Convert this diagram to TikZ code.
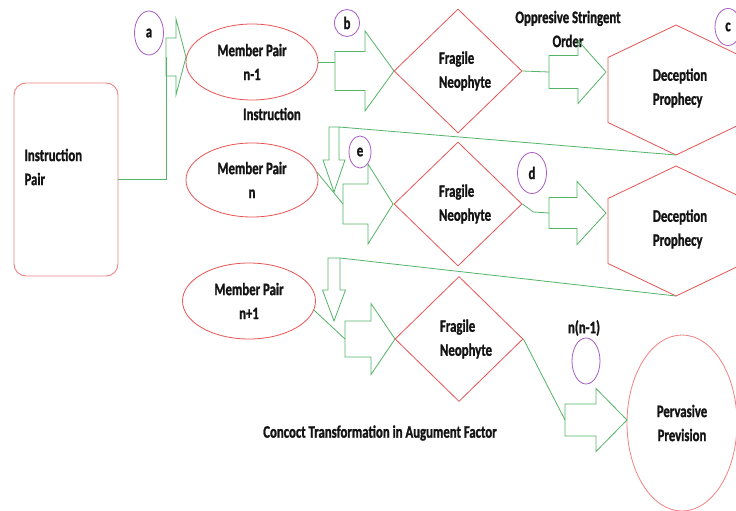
\documentclass[tikz,border=0pt]{standalone}
\usepackage{fontspec}
\setmainfont{Carlito}[FakeStretch=0.73, FakeBold=1.2]
\usetikzlibrary{shapes.geometric}
\definecolor{pairred}{RGB}{232,84,84}
\definecolor{boxpink}{RGB}{240,130,130}
\definecolor{flowgreen}{RGB}{84,180,104}
\definecolor{markpurple}{RGB}{168,92,196}
\definecolor{inktext}{RGB}{20,20,20}

\begin{document}
\begin{tikzpicture}[x=1pt, y=-1pt,
  every node/.style={font=\fontsize{17.5}{24}\selectfont\bfseries, text=inktext},
  pairbox/.style={draw=boxpink, rounded corners=12pt, minimum width=104pt,
                  minimum height=193pt, line width=0.9pt},
  member/.style={ellipse, draw=pairred, align=center, inner sep=0pt, line width=0.8pt},
  neophyte/.style={diamond, draw=pairred, align=left, text width=38pt, inner sep=0pt,
                   minimum width=128pt, minimum height=124pt, line width=0.8pt},
  tagring/.style={ellipse, draw=markpurple, inner sep=0pt, line width=0.8pt},
  flow/.style={draw=flowgreen, line width=0.8pt},
  hexline/.style={draw=pairred, line width=0.8pt},
  % block arrow: shaft length / shaft half width / head length / head half width
  pics/blockarr/.style args={#1/#2/#3/#4}{code={
    \draw[flow] (0,-#2) -- (#1,-#2) -- (#1,-#4) -- (#1+#3,0) -- (#1,#4)
                -- (#1,#2) -- (0,#2) -- cycle;
    \coordinate (-tail) at (0,0);
    \coordinate (-corner) at (0,-#2);
  }},
  pics/hexcell/.style={code={
    \draw[hexline] (0,-65) -- (68,-32.5) -- (68,32.5) -- (0,65) -- (-68,32.5)
                   -- (-68,-32.5) -- cycle;
    \node[align=left] (-txt) at (4,-2) {Deception\\Prophecy};
    \coordinate (-bot) at (0,65);
  }}
]
\fill[white] (0,0) rectangle (736,511);
\useasboundingbox (0,0) rectangle (736,511);

% left block
\node[pairbox] (instr) at (66,179.5) {};
\node[align=left, anchor=west] (instrtxt) at (21,167) {Instruction\\Pair};

% member pairs
\node[member, minimum width=132pt, minimum height=76pt] (mpA) at (252,62) {Member Pair\\n-1};
\node[member, minimum width=132pt, minimum height=74pt] (mpB) at (252,180) {Member Pair\\n};
\node[member, minimum width=133pt, minimum height=76pt] (mpC) at (249,301) {Member Pair\\n+1};

% neophytes
\node[neophyte] (fnA) at (458,71) {Fragile\\Neophyte};
\node[neophyte] (fnB) at (458,204) {Fragile\\Neophyte};
\node[neophyte, minimum height=125pt] (fnC) at (459,339) {Fragile\\Neophyte};

% prophecies
\pic (hexA) at (676,90) {hexcell};
\pic (hexB) at (676,231) {hexcell};
\node[member, draw=boxpink, minimum width=110pt, minimum height=176pt] (pp) at (682,423) {Pervasive\\Prevision};

% tags
\node[tagring, minimum width=29pt, minimum height=44pt] (tagA) at (149,33) {a};
\node[tagring, minimum width=25pt, minimum height=27pt] (tagB) at (347,23) {b};
\node[tagring, minimum width=26pt, minimum height=37pt] (tagC) at (728,27) {c};
\node[tagring, minimum width=29pt, minimum height=41pt] (tagD) at (532,173) {d};
\node[tagring, minimum width=22pt, minimum height=32pt] (tagE) at (360,152) {e};
\node[tagring, minimum width=28pt, minimum height=46pt] (tagN) at (586,361) {};
\node (tagNtxt) at (584,328) {n(n-1)};

% labels
\node[align=center] (order) at (568,29) {Oppresive Stringent\\Order};
\node (instrlbl) at (272,114) {Instruction};
\node (concoct) at (380,433) {Concoct Transformation in Augument Factor};

% block arrows
\pic (arrA) at (166,57) {blockarr=10/19/10/38};
\pic (arrB) at (335,71) {blockarr=30/19.5/29/40};
\pic (arrC) at (549,72) {blockarr=29/16.5/28/31.5};
\pic (arrD) at (549,213) {blockarr=28/15.5/29/31.5};
\pic (arrE) at (343,204) {blockarr=25/20/25/40};
\pic (arrF) at (345,339) {blockarr=26/18/24/35.5};
\pic (arrG) at (565,420) {blockarr=31/16/31/31.5};
\pic[rotate=-90] (dnA) at (334,127) {blockarr=33/5/32/11};
\pic[rotate=-90] (dnB) at (334,258) {blockarr=32/6/31/11.5};

% connectors
\draw[flow] (instr.east) -| (arrA-tail);
\draw[flow] (mpA.east) -- (mpA.east -| arrB-tail);
\draw[flow] (mpB.7) -- (arrE-tail);
\draw[flow] (mpC.352) -- (arrF-tail);
\draw[flow] (fnA.east) -- (arrC-tail);
\draw[flow] (fnB.east) -- ++(11,8) -- (arrD-tail);
\draw[flow] (fnC.east) -- (arrG-tail);
\draw[flow] (hexA-bot) -- (dnA-corner);
\draw[flow] (hexB-bot) -- (dnB-corner);
\end{tikzpicture}
\end{document}
